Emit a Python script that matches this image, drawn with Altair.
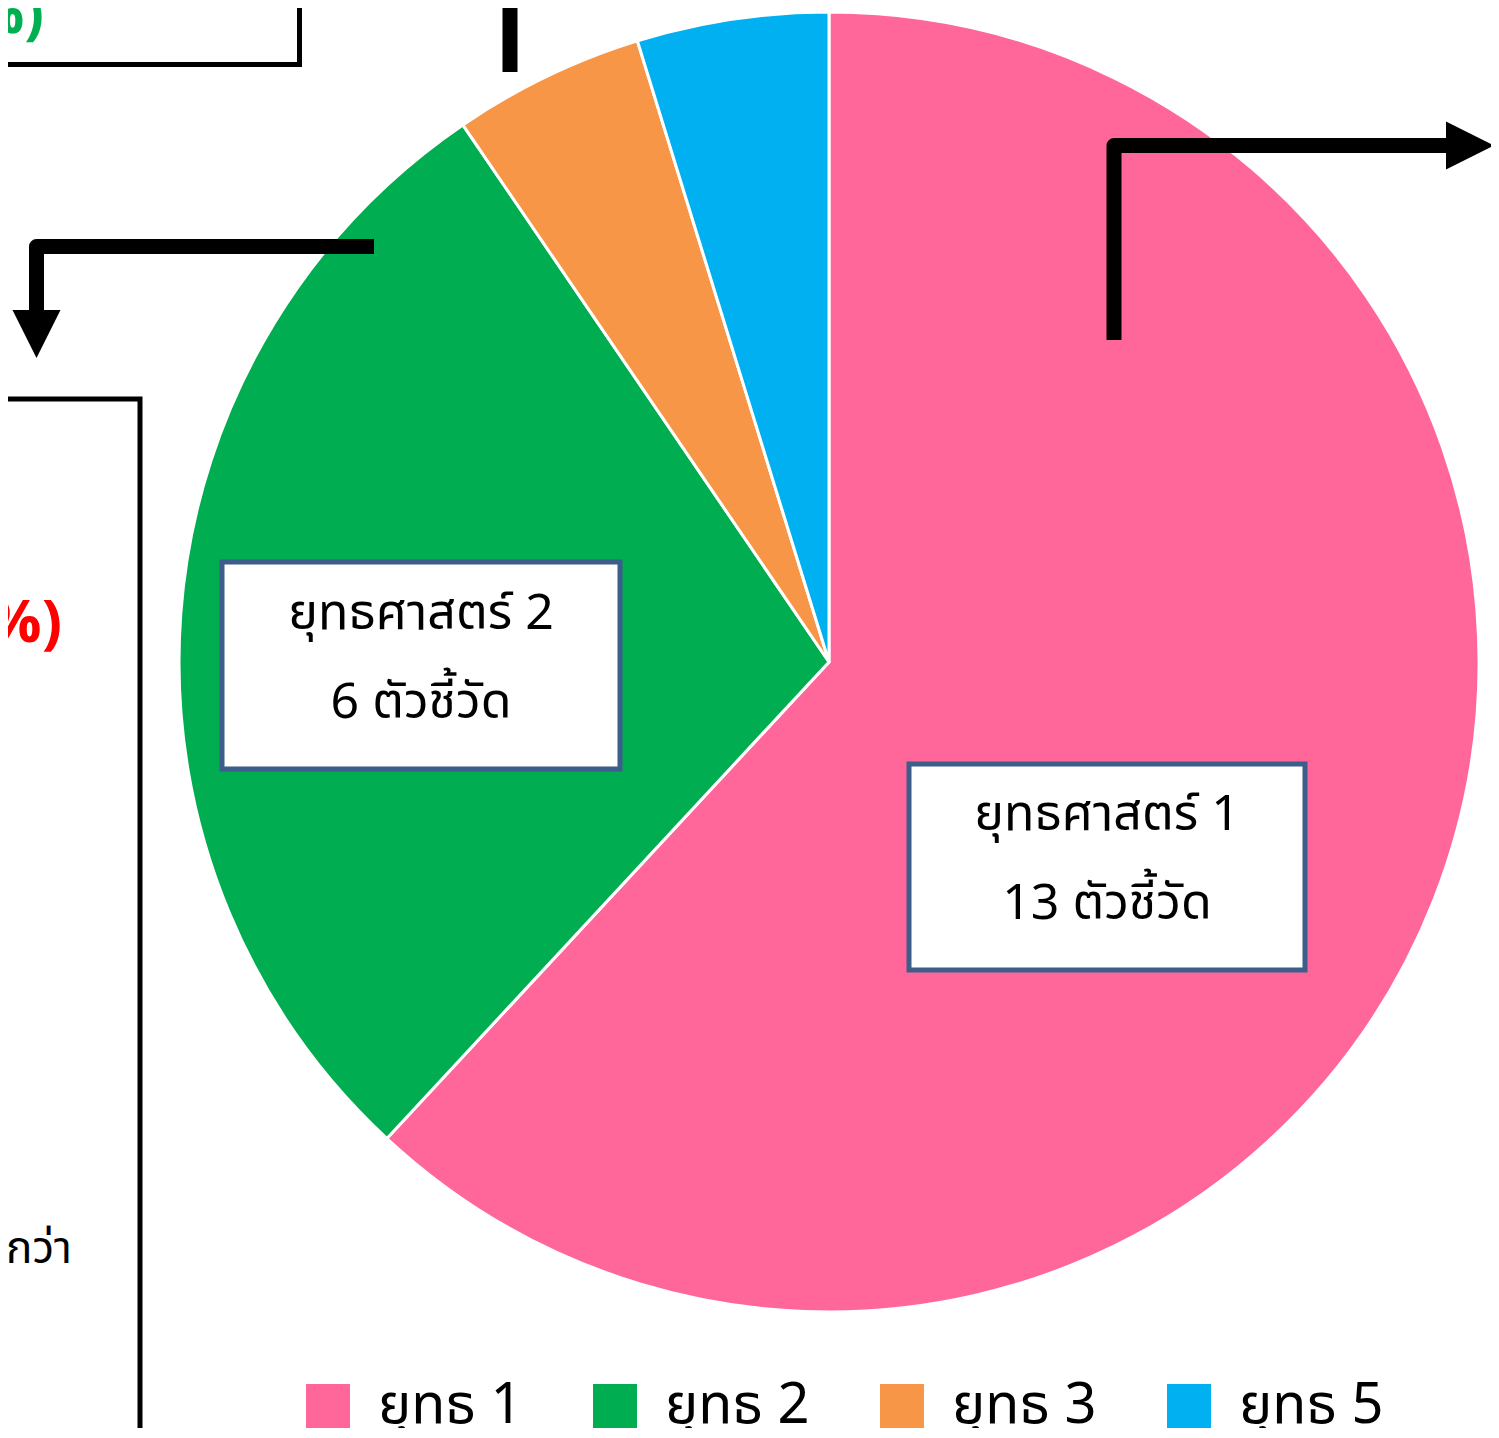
import altair as alt
import pandas as pd

FONT = "Noto Sans Thai, Noto Sans, Tahoma, sans-serif"

# ---- pie data ----
categories = ["ยุทธ 1", "ยุทธ 2", "ยุทธ 3", "ยุทธ 5"]
counts = [13, 6, 1, 1]
colors = ["#FF6699", "#00AD50", "#F79646", "#00B0F0"]

# ---- label boxes ----
box_text = ["ยุทธศาสตร์ 2\n6 ตัวชี้วัด", "ยุทธศาสตร์ 1\n13 ตัวชี้วัด"]
box_x1 = [214, 901]
box_x2 = [612, 1297]
box_y1 = [554, 756]
box_y2 = [761, 962]

# ---- arrows (pixel positions in the plot area) ----
arrow_id = ["a", "a", "a", "b", "b", "b", "c", "c"]
arrow_x = [366, 28.5, 28.5, 1106, 1106, 1441, 502, 502]
arrow_y = [238.5, 238.5, 305, 332, 137.5, 137.5, -20, 64]
arrow_seq = [0, 1, 2, 0, 1, 2, 0, 1]
head_x = [28.5, 1462]
head_y = [326, 137.5]
head_shape = ["M -1 -1 L 1 -1 L 0 1 Z", "M -1 -1 L 1 0 L -1 1 Z"]

# ---- frames cut off at the page edge ----
frame_x1 = [-30, -30]
frame_x2 = [291.5, 132]
frame_y1 = [-30, 391]
frame_y2 = [56.5, 1500]

# ---- cut-off texts ----
side_text = ["(28.57%)", "(61.90%)", "มากกว่า"]
side_x = [36, 54, 64]
side_y = [25, 634, 1255]
side_color = ["#00B050", "#FF0000", "#000000"]
side_size = [58, 60, 44]
side_weight = ["bold", "bold", "normal"]

pie_df = pd.DataFrame({"cat": categories, "n": counts, "ord": list(range(len(counts)))})

pie = alt.Chart(pie_df).mark_arc(radius=650, stroke="white", strokeWidth=3).encode(
    theta=alt.Theta("n:Q", stack=True),
    order=alt.Order("ord:Q"),
    color=alt.Color(
        "cat:N",
        scale=alt.Scale(domain=categories, range=colors),
        legend=alt.Legend(
            title=None, orient="none", legendX=292, legendY=1370,
            direction="horizontal", symbolType="square", symbolSize=1936,
            symbolStrokeWidth=0, labelFontSize=56, labelFont=FONT,
            labelColor="#000000", labelOffset=22, columnPadding=64,
            gridAlign="all", padding=0, labelLimit=0,
        ),
    ),
    x=alt.value(821),
    y=alt.value(654),
)

box_df = pd.DataFrame({"x1": box_x1, "x2": box_x2, "y1": box_y1, "y2": box_y2, "t": box_text})
boxes = alt.Chart(box_df).mark_rect(fill="white", stroke="#3D5E8A", strokeWidth=5).encode(
    x=alt.X("x1:Q", scale=None), x2="x2:Q", y=alt.Y("y1:Q", scale=None), y2="y2:Q"
)
box_df["cx"] = [(a + b) / 2 for a, b in zip(box_x1, box_x2)]
box_df["cy"] = [(a + b) / 2 for a, b in zip(box_y1, box_y2)]
box_labels = alt.Chart(box_df).mark_text(
    font=FONT, fontSize=50, color="black", lineBreak="\n", lineHeight=89,
    align="center", baseline="middle", dy=-52
).encode(x=alt.X("cx:Q", scale=None), y=alt.Y("cy:Q", scale=None), text="t:N")

arrow_df = pd.DataFrame({"id": arrow_id, "x": arrow_x, "y": arrow_y, "s": arrow_seq})
arrows = alt.Chart(arrow_df).mark_line(color="black", strokeWidth=15, strokeJoin="round").encode(
    x=alt.X("x:Q", scale=None), y=alt.Y("y:Q", scale=None), detail="id:N", order="s:Q"
)
heads = alt.layer(*[
    alt.Chart(pd.DataFrame({"x": [hx], "y": [hy]})).mark_point(
        shape=sh, size=48 * 48, filled=True, color="black", opacity=1
    ).encode(x=alt.X("x:Q", scale=None), y=alt.Y("y:Q", scale=None))
    for hx, hy, sh in zip(head_x, head_y, head_shape)
])

frame_df = pd.DataFrame({"x1": frame_x1, "x2": frame_x2, "y1": frame_y1, "y2": frame_y2})
frames = alt.Chart(frame_df).mark_rect(fill="white", stroke="black", strokeWidth=5).encode(
    x=alt.X("x1:Q", scale=None), x2="x2:Q", y=alt.Y("y1:Q", scale=None), y2="y2:Q"
)

side_df = pd.DataFrame({"t": side_text, "x": side_x, "y": side_y})
side_texts = alt.layer(*[
    alt.Chart(side_df.iloc[[i]]).mark_text(
        font=FONT, fontSize=side_size[i], fontWeight=side_weight[i], color=side_color[i],
        align="right", baseline="alphabetic"
    ).encode(x=alt.X("x:Q", scale=None), y=alt.Y("y:Q", scale=None), text="t:N")
    for i in range(len(side_text))
])

chart = alt.layer(frames, side_texts, pie, boxes, box_labels, arrows, heads).properties(
    width=1483, height=1420, autosize="none", padding=0
).configure_view(stroke=None)

chart.save("out.html", embed_options={"renderer": "svg", "actions": False})
